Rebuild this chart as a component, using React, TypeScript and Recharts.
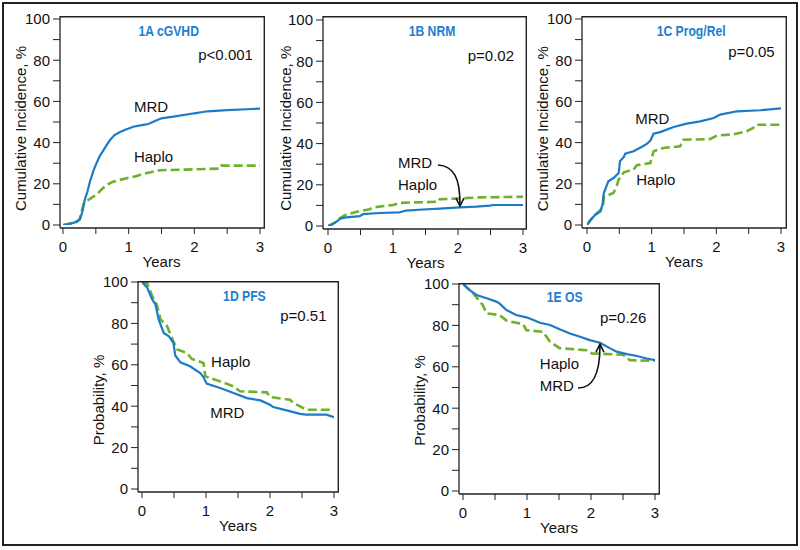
import React from 'react';
import { LineChart, Line, XAxis, YAxis, ReferenceDot } from 'recharts';

type Pt = [number, number];

const FONT = "'Liberation Sans', Arial, Helvetica, sans-serif";
const BLUE = '#1b7bc8';
const GREEN = '#6fb12c';
const TITLE_BLUE = '#1b80cf';
const INK = '#111';

const yearTicks = [0, 0.5, 1, 1.5, 2, 2.5, 3];
const pctTicks = [0, 10, 20, 30, 40, 50, 60, 70, 80, 90, 100];

// 1A cGVHD
const cgvhdMrd: Pt[] = [[0,0],[0.1,0.5],[0.2,1.5],[0.26,3],[0.3,7],[0.33,12],[0.37,16],[0.41,21],[0.46,26],[0.51,30],[0.56,33.5],[0.61,36],[0.66,38.5],[0.71,41],[0.78,43.5],[0.86,45],[0.95,46.2],[1.07,47.7],[1.2,48.5],[1.3,49],[1.4,50.5],[1.5,51.8],[1.68,52.6],[1.93,53.9],[2.0,54.2],[2.2,55.2],[2.5,55.8],[2.8,56.2],[3.0,56.5]];
const cgvhdHaplo: Pt[] = [[0,0],[0.2,1.5],[0.25,2.5],[0.28,6],[0.31,10],[0.38,12],[0.45,13.5],[0.51,14.6],[0.58,17],[0.66,19.4],[0.76,21],[0.85,21.8],[0.97,22.7],[1.1,23.6],[1.17,24.3],[1.3,25.4],[1.47,26.6],[1.88,26.9],[2.39,27.4],[2.41,28.8],[3.0,28.8]];
// 1B NRM
const nrmMrd: Pt[] = [[0,0],[0.05,0.5],[0.13,2.1],[0.2,3.7],[0.28,4.2],[0.49,4.8],[0.54,5.8],[0.79,6.3],[1.1,6.6],[1.2,7.5],[1.46,8],[1.72,8.4],[2.03,9],[2.28,9.4],[2.49,9.9],[2.54,10.2],[3.0,10.2]];
const nrmHaplo: Pt[] = [[0,0],[0.1,1.5],[0.18,3.7],[0.26,5.3],[0.49,7.3],[0.64,8.1],[0.69,9],[1.0,10.2],[1.1,11.2],[1.26,11.4],[1.51,11.6],[1.7,11.8],[1.72,13],[1.97,13.3],[2.33,13.9],[3.0,14.2]];
// 1C Prog/Rel
const relMrd: Pt[] = [[0,0],[0.05,2.3],[0.13,5],[0.21,6.6],[0.24,10],[0.26,15.5],[0.33,21.2],[0.41,22.8],[0.49,25.2],[0.51,30.9],[0.57,33],[0.59,34.6],[0.72,35.8],[0.85,38],[0.93,39.5],[0.98,41],[1.03,44.3],[1.13,45.1],[1.34,47.6],[1.54,49.2],[1.75,50.3],[1.96,51.9],[2.06,53.6],[2.32,55.2],[2.68,55.7],[3.0,56.6]];
const relHaplo: Pt[] = [[0,0],[0.1,4.2],[0.21,7.4],[0.25,10],[0.26,13.6],[0.41,15.5],[0.46,19],[0.49,22],[0.57,25.6],[0.72,26.9],[0.77,29],[0.98,30.1],[1.03,35.8],[1.18,37.4],[1.44,38.2],[1.49,41.4],[1.9,41.7],[2.01,43.4],[2.26,44],[2.47,45.5],[2.57,47.1],[2.62,48.7],[3.0,48.7]];
// 1D PFS
const pfsMrd: Pt[] = [[0,100],[0.08,97.3],[0.16,91.6],[0.21,89.2],[0.26,81.9],[0.34,75.4],[0.42,73.8],[0.49,70.6],[0.52,64.5],[0.6,61.2],[0.75,59.3],[0.91,56],[0.96,54.1],[1.01,50.9],[1.22,48.8],[1.43,46.4],[1.64,43.9],[1.85,42.8],[2.0,40.7],[2.05,39.6],[2.26,38],[2.47,36.3],[2.57,35.9],[2.88,35.9],[3.0,34.7]];
const pfsHaplo: Pt[] = [[0,100],[0.08,99.3],[0.16,93.2],[0.23,89.2],[0.29,81.9],[0.39,78.7],[0.49,71.4],[0.55,67.4],[0.7,65.7],[0.78,62.8],[0.96,60.9],[0.99,54.4],[1.22,52],[1.43,49.6],[1.53,47.2],[1.95,46.7],[2.0,44.4],[2.31,43.1],[2.37,41.5],[2.47,39.9],[2.57,38.3],[3.0,38.3]];
// 1E OS
const osMrd: Pt[] = [[0,100],[0.1,97.1],[0.21,94.7],[0.37,93.1],[0.52,91.5],[0.57,90.6],[0.68,87.4],[0.83,85],[0.99,83.9],[1.1,82.6],[1.2,81.3],[1.36,80.2],[1.51,78.1],[1.67,76.1],[1.83,74.5],[1.98,72.9],[2.14,71.6],[2.3,68.9],[2.4,67.3],[2.56,66.1],[2.72,65.2],[2.87,64],[3.0,63.2]];
const osHaplo: Pt[] = [[0,100],[0.16,95.5],[0.31,89.8],[0.37,85.8],[0.57,85],[0.68,82.3],[0.94,80.6],[0.99,77.7],[1.25,76.9],[1.36,72.1],[1.51,69],[1.93,68],[2.01,66.5],[2.5,65.8],[2.61,63.2],[3.0,62.9]];

const titles = ['1A cGVHD', '1B NRM', '1C Prog/Rel', '1D PFS', '1E OS'];
const pValues = ['p<0.001', 'p=0.02', 'p=0.05', 'p=0.51', 'p=0.26'];
const yLabels = ['Cumulative Incidence, %', 'Cumulative Incidence, %', 'Cumulative Incidence, %', 'Probability, %', 'Probability, %'];

const toRows = (pts: Pt[]) => pts.map(([t, v]) => ({ t, v }));

interface Spec {
  title: string; p: string; yLabel: string; mrd: Pt[]; haplo: Pt[];
  frame: { l: number; t: number; r: number; b: number };
  pad: { l: number; r: number; t: number; b: number };
  yLabelDx: number; yLabelDy: number;
  titlePos: Pt; pPos: Pt; mrdPos: Pt; haploPos: Pt;
  arrow?: { tip: Pt; path: string; head: string };
}

const specs: Spec[] = [
  { title: titles[0], p: pValues[0], yLabel: yLabels[0], mrd: cgvhdMrd, haplo: cgvhdHaplo,
    frame: { l: 60, t: 16, r: 265, b: 228 }, pad: { l: 3, r: 5, t: 3, b: 3 }, yLabelDx: -34, yLabelDy: 6.5,
    titlePos: [1.61, 91.7], pPos: [2.06, 80.1], mrdPos: [1.08, 54.7], haploPos: [1.08, 30.6] },
  { title: titles[1], p: pValues[1], yLabel: yLabels[1], mrd: nrmMrd, haplo: nrmHaplo,
    frame: { l: 323, t: 16, r: 527, b: 229 }, pad: { l: 5, r: 4, t: 4, b: 3 }, yLabelDx: -32, yLabelDy: 5.3,
    titlePos: [1.6, 92.2], pPos: [2.15, 80.2], mrdPos: [1.077, 28], haploPos: [1.077, 17.7],
    arrow: { tip: [2.03, 9.7], path: 'M -22 -41 C -6 -40 0 -28 0 -2', head: 'M -4 -8 L 0 0 L 4 -8' } },
  { title: titles[2], p: pValues[2], yLabel: yLabels[2], mrd: relMrd, haplo: relHaplo,
    frame: { l: 582, t: 16, r: 787, b: 228 }, pad: { l: 5, r: 6, t: 3, b: 3 }, yLabelDx: -34, yLabelDy: 6.7,
    titlePos: [1.61, 91.6], pPos: [2.185, 81.6], mrdPos: [0.745, 49.2], haploPos: [0.76, 19.2] },
  { title: titles[3], p: pValues[3], yLabel: yLabels[3], mrd: pfsMrd, haplo: pfsHaplo,
    frame: { l: 138, t: 281, r: 339, b: 492 }, pad: { l: 4, r: 5, t: 1, b: 3 }, yLabelDx: -34, yLabelDy: 14.5,
    titlePos: [1.6, 91], pPos: [2.16, 81.3], mrdPos: [1.066, 34.2], haploPos: [1.08, 59.1] },
  { title: titles[4], p: pValues[4], yLabel: yLabels[4], mrd: osMrd, haplo: osHaplo,
    frame: { l: 459, t: 283, r: 660, b: 494 }, pad: { l: 4, r: 5, t: 1, b: 3 }, yLabelDx: -34, yLabelDy: 13,
    titlePos: [1.59, 91.4], pPos: [2.14, 81.3], mrdPos: [1.2, 48.2], haploPos: [1.2, 59.1],
    arrow: { tip: [2.14, 71], path: 'M -22 44 C -8 44 0 32 0 2', head: 'M -4 8 L 0 0 L 4 8' } },
];

const AXW = 60;
const XH = 50;
const MT = 10;
const MR = 12;

const textShape = (label: string) => (p: any) => (
  <text x={p.cx} y={p.cy} textAnchor="start" fill={INK} fontFamily={FONT} fontSize={15}>{label}</text>
);

const titleShape = (label: string) => (p: any) => (
  <text transform={`translate(${p.cx} ${p.cy}) scale(0.84 1)`} x={0} y={0} textAnchor="middle"
    fill={TITLE_BLUE} fontFamily={FONT} fontSize={14.5} fontWeight={700}>{label}</text>
);

function Panel({ s }: { s: Spec }) {
  const fw = s.frame.r - s.frame.l;
  const fh = s.frame.b - s.frame.t;
  const w = fw + AXW + MR;
  const h = fh + MT + XH;
  const tickStyle = { fill: INK, fontSize: 15, fontFamily: FONT };
  return (
    <div style={{ position: 'absolute', left: s.frame.l - AXW, top: s.frame.t - MT, width: w, height: h }}>
      <LineChart width={w} height={h} margin={{ top: MT, right: MR, bottom: 0, left: 0 }}>
        <XAxis dataKey="t" type="number" domain={[0, 3]} ticks={yearTicks} allowDataOverflow
          padding={{ left: s.pad.l, right: s.pad.r }} height={XH} tickSize={6} tickMargin={7}
          stroke="#222" tick={tickStyle} interval={0} axisLine={{ stroke: '#222', strokeWidth: 1.3 }}
          tickFormatter={(v: number) => (Number.isInteger(v) ? String(v) : '')} />
        <YAxis type="number" domain={[0, 100]} ticks={pctTicks} allowDataOverflow
          padding={{ top: s.pad.t, bottom: s.pad.b }} width={AXW} tickSize={7} tickMargin={3}
          stroke="#222" tick={tickStyle} interval={0} axisLine={{ stroke: '#222', strokeWidth: 1.3 }}
          tickFormatter={(v: number) => (v % 20 === 0 ? String(v) : '')} />
        <Line data={toRows(s.haplo)} dataKey="v" type="linear" stroke={GREEN} strokeWidth={2.6}
          strokeDasharray="9 4" dot={false} isAnimationActive={false} />
        <Line data={toRows(s.mrd)} dataKey="v" type="linear" stroke={BLUE} strokeWidth={2.2}
          dot={false} isAnimationActive={false} />
        <ReferenceDot x={s.titlePos[0]} y={s.titlePos[1]} r={0} shape={titleShape(s.title)} />
        <ReferenceDot x={s.pPos[0]} y={s.pPos[1]} r={0} shape={textShape(s.p)} />
        <ReferenceDot x={s.mrdPos[0]} y={s.mrdPos[1]} r={0} shape={textShape('MRD')} />
        <ReferenceDot x={s.haploPos[0]} y={s.haploPos[1]} r={0} shape={textShape('Haplo')} />
        <ReferenceDot x={1.5} y={0} r={0} shape={(p: any) => (
          <text x={p.cx} y={p.cy + s.pad.b + 39} textAnchor="middle" fill={INK} fontFamily={FONT} fontSize={15}>Years</text>
        )} />
        <ReferenceDot x={0} y={50} r={0} shape={(p: any) => {
          const x = p.cx - s.pad.l + s.yLabelDx;
          const y = p.cy + s.yLabelDy;
          return (
            <text x={x} y={y} transform={`rotate(-90 ${x} ${y})`} textAnchor="middle" fill={INK}
              fontFamily={FONT} fontSize={15}>{s.yLabel}</text>
          );
        }} />
        {s.arrow && (
          <ReferenceDot x={s.arrow.tip[0]} y={s.arrow.tip[1]} r={0} shape={(p: any) => (
            <g transform={`translate(${p.cx} ${p.cy})`} fill="none" stroke="#111" strokeWidth={1.6}>
              <path d={s.arrow!.path} />
              <path d={s.arrow!.head} />
            </g>
          )} />
        )}
      </LineChart>
      <svg width={w} height={h} style={{ position: 'absolute', left: 0, top: 0, pointerEvents: 'none' }}>
        <path d={`M ${AXW} ${MT + 0.7} H ${AXW + fw - 0.7} V ${MT + fh}`} fill="none" stroke="#222" strokeWidth={1.4} />
      </svg>
    </div>
  );
}

export default function App() {
  return (
    <div style={{ position: 'absolute', left: 0, top: 0, width: 800, height: 550, background: '#fff', overflow: 'hidden' }}>
      <div style={{ position: 'absolute', left: 2, top: 2, width: 796, height: 544, border: '2px solid #222', boxSizing: 'border-box' }} />
      {specs.map((s) => <Panel key={s.title} s={s} />)}
    </div>
  );
}
